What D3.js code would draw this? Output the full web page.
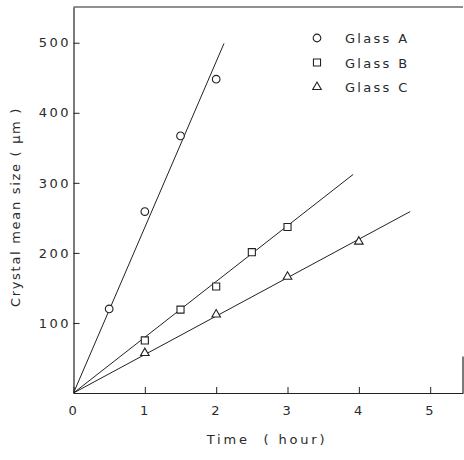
<!DOCTYPE html>
<html>
<head>
<meta charset="utf-8">
<script src="https://cdn.jsdelivr.net/npm/d3@7"></script>
<style>
  body { margin: 0; background: #fff; }
  text { font-family: "DejaVu Sans", sans-serif; fill: #2a2a2a; }
</style>
</head>
<body>
<svg id="chart" width="464" height="460"></svg>
<script>
// measured values (time in hours, size in micrometres)
var seriesNames = ["Glass A", "Glass B", "Glass C"];
var glassA = [[0.5, 120], [1, 259], [1.5, 367], [2, 448]];
var glassB = [[1, 75], [1.5, 119], [2, 152], [2.5, 201], [3, 237]];
var glassC = [[1, 57], [2, 112], [3, 166], [4, 216]];
// fitted lines, start and end
var fitA = [[0, 0], [2.11, 499]];
var fitB = [[0, 0], [3.92, 312]];
var fitC = [[0, 0], [4.72, 259]];
var xTicks = [0, 1, 2, 3, 4, 5];
var yTicks = [100, 200, 300, 400, 500];

var svg = d3.select("#chart");

var x = d3.scaleLinear().domain([0, 5.46]).range([73.5, 463]);
var y = d3.scaleLinear().domain([0, 551]).range([393, 7]);

var line = d3.line()
    .x(d => x(d[0]))
    .y(d => y(d[1]));

// frame: top and short right edge
svg.append("line")
  .attr("x1", x(0)).attr("x2", 463)
  .attr("y1", y(551)).attr("y2", y(551))
  .attr("stroke", "#222").attr("stroke-width", 1.2);
svg.append("line")
  .attr("x1", 463).attr("x2", 463)
  .attr("y1", y(52)).attr("y2", y(0))
  .attr("stroke", "#222").attr("stroke-width", 1.2);

// x axis
var xAxis = svg.append("g")
  .attr("transform", "translate(0," + y(0) + ")")
  .call(d3.axisBottom(x).tickValues(xTicks).tickFormat(d3.format("d"))
    .tickSizeInner(-6).tickSizeOuter(0).tickPadding(13));

// y axis
var yAxis = svg.append("g")
  .attr("transform", "translate(" + x(0) + ",0)")
  .call(d3.axisLeft(y).tickValues(yTicks)
    .tickSizeInner(-6).tickSizeOuter(0).tickPadding(5));

[xAxis, yAxis].forEach(function(g) {
  g.select(".domain").attr("stroke", "#222").attr("stroke-width", 1.2);
  g.selectAll(".tick line").attr("stroke", "#222");
  g.selectAll("text")
    .style("font-family", "DejaVu Sans")
    .style("font-size", "13px")
    .style("letter-spacing", "2.5px")
    .attr("fill", "#2a2a2a");
});
yAxis.selectAll("text").attr("dx", "2.5px");

// axis titles
svg.append("text")
  .attr("x", 267).attr("y", 444)
  .attr("text-anchor", "middle")
  .style("font-size", "13px")
  .style("letter-spacing", "2.8px")
  .style("white-space", "pre")
  .text("Time  ( hour)");

svg.append("text")
  .attr("transform", "translate(20,207) rotate(-90)")
  .attr("text-anchor", "middle")
  .style("font-size", "13px")
  .style("letter-spacing", "1.7px")
  .style("white-space", "pre")
  .text("Crystal mean size ( \u03bcm )");

// fitted lines
[fitA, fitB, fitC].forEach(function(f) {
  svg.append("path")
    .attr("d", line(f))
    .attr("fill", "none")
    .attr("stroke", "#222")
    .attr("stroke-width", 1);
});

// markers
var circle = d3.symbol().type(d3.symbolCircle).size(46);
var square = d3.symbol().type(d3.symbolSquare).size(50);
var triangle = d3.symbol().type(d3.symbolTriangle).size(32);
var symbols = [circle, square, triangle];

[glassA, glassB, glassC].forEach(function(data, i) {
  svg.append("g").selectAll("path")
    .data(data).enter()
    .append("path")
    .attr("transform", d => "translate(" + x(d[0]) + "," + y(d[1]) + ")")
    .attr("d", symbols[i]())
    .attr("fill", "#fff")
    .attr("stroke", "#222")
    .attr("stroke-width", 1.1);
});

// legend
var legend = svg.append("g")
  .selectAll("g")
  .data(seriesNames).enter()
  .append("g")
  .attr("transform", (d, i) => "translate(317," + (38 + i * 24.5) + ")");

legend.append("path")
  .attr("d", (d, i) => symbols[i]())
  .attr("fill", "#fff")
  .attr("stroke", "#222")
  .attr("stroke-width", 1.1);

legend.append("text")
  .attr("x", 28).attr("y", 5)
  .style("font-size", "13px")
  .style("letter-spacing", "2.3px")
  .text(d => d);
</script>
</body>
</html>
